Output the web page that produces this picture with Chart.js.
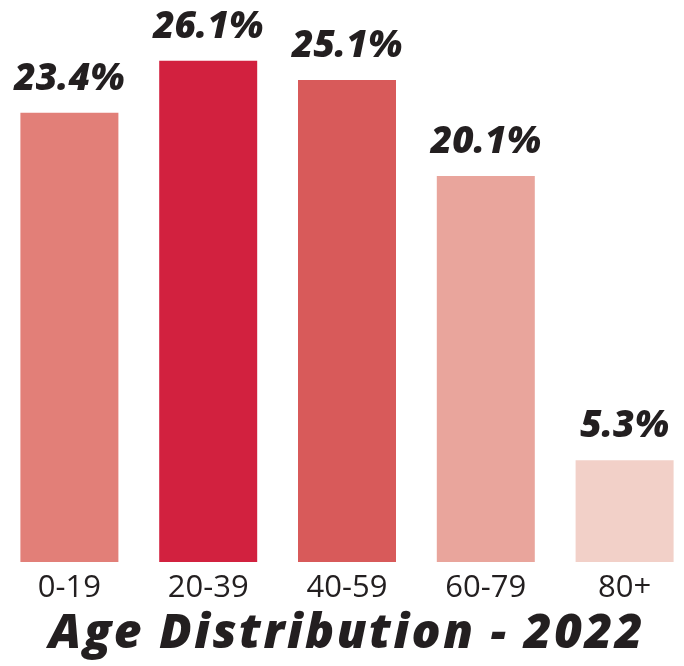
<!DOCTYPE html>
<html>
<head>
<meta charset="utf-8">
<script src="https://cdn.jsdelivr.net/npm/chart.js@4"></script>
<style>
  html, body { margin: 0; padding: 0; background: #fff; overflow: hidden; }
  .wrap { position: relative; width: 694px; height: 666px; }
</style>
</head>
<body>
<div class="wrap"><canvas id="ageChart"></canvas></div>
<script>
// Age groups and their share of population (%)
const ageGroups = ["0-19", "20-39", "40-59", "60-79", "80+"];
const shares = [23.4, 26.1, 25.1, 20.1, 5.3];
const barColors = ["#E27F78", "#D2213F", "#D85A5A", "#E9A59C", "#F2D0C8"];
const chartTitle = "Age Distribution - 2022";

const textColor = "#231F20";

// Draw the % value above each bar
const valueLabels = {
    id: "valueLabels",
    afterDatasetsDraw(chart) {
        const ctx = chart.ctx;
        const meta = chart.getDatasetMeta(0);
        ctx.save();
        ctx.font = "italic 800 37px 'Open Sans'";
        ctx.fillStyle = textColor;
        ctx.textAlign = "center";
        ctx.textBaseline = "alphabetic";
        meta.data.forEach((bar, i) => {
            ctx.fillText(shares[i].toFixed(1) + "%", bar.x, bar.y - 23);
        });
        ctx.restore();
    }
};

const ctx = document.getElementById("ageChart").getContext("2d");
const chart = new Chart(ctx, {
    type: "bar",
    data: {
        labels: ageGroups,
        datasets: [{
            data: shares,
            backgroundColor: barColors,
            borderWidth: 0,
            barPercentage: 0.706,
            categoryPercentage: 1
        }]
    },
    options: {
        responsive: true,
        maintainAspectRatio: false,
        animation: false,
        layout: { padding: 0 },
        plugins: {
            legend: { display: false },
            tooltip: { enabled: false },
            title: {
                display: true,
                position: "bottom",
                text: chartTitle,
                color: textColor,
                font: { family: "'Open Sans'", size: 48, weight: "800", style: "italic", lineHeight: "40px" },
                padding: { top: 0, bottom: 12 }
            }
        },
        scales: {
            x: {
                grid: { display: false, drawTicks: false },
                border: { display: false },
                ticks: {
                    color: textColor,
                    font: { family: "'Open Sans'", size: 31 },
                    padding: 7.4
                }
            },
            y: {
                display: false,
                min: 0,
                max: 29.27
            }
        }
    },
    plugins: [valueLabels]
});

// title in the picture is letter-spaced, so wrap its draw
const titleBox = chart.titleBlock;
const drawTitle = titleBox.draw.bind(titleBox);
titleBox.draw = function () {
    chart.ctx.save();
    chart.ctx.letterSpacing = "2.5px";
    drawTitle();
    chart.ctx.restore();
};
chart.draw();
</script>
</body>
</html>
